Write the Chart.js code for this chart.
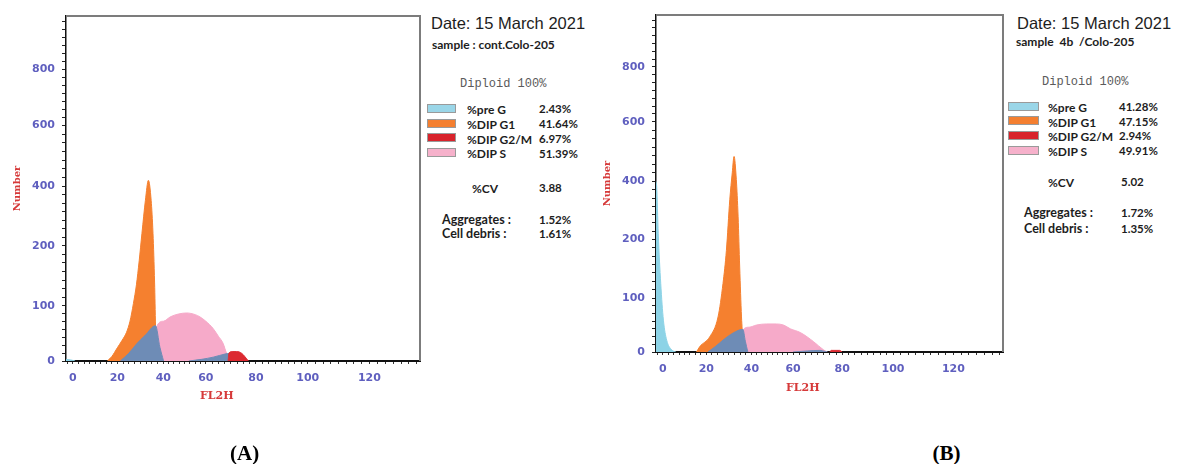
<!DOCTYPE html>
<html>
<head>
<meta charset="utf-8">
<script src="https://cdn.jsdelivr.net/npm/chart.js@4.4.1/dist/chart.umd.min.js"></script>
<style>
  body { margin: 0; width: 1180px; height: 464px; background: #fff; position: relative; overflow: hidden; }
  .plot { position: absolute; top: 0; }
  .t { position: absolute; white-space: pre; line-height: 1; color: #1d1d1d; }
  .date { font: 16.5px 'Liberation Sans', Arial, sans-serif; }
  .samp { font: bold 12px Lato, sans-serif; }
  .dip { font: 12px 'Liberation Mono', monospace; color: #5a5a5a; }
  .lab { font: bold 12px Lato, sans-serif; }
  .val { font: bold 11.5px Lato, sans-serif; }
  .agg { font: bold 12.5px Lato, sans-serif; }
  .ax { font: bold 11px 'DejaVu Serif', serif; color: #d63a3a; }
  .cap { font: bold 21px 'Liberation Serif', serif; color: #000; }
  .sw { position: absolute; height: 7px; border: 1px solid #9a9a9a; }
</style>
</head>
<body>
<div class="plot" style="left:0;width:425px;height:410px"><canvas id="chartA"></canvas></div>
<div class="plot" style="left:590px;width:418px;height:401px"><canvas id="chartB"></canvas></div>

<script>
// FL2H channel ticks and count ticks (the count axis is not linear on the original)
const xTickLabels = [0, 20, 40, 60, 80, 100, 120];
const yTickLabels = [0, 100, 200, 400, 600, 800];

const phaseNames = ['%pre G', '%DIP G1', '%DIP G2/M', '%DIP S'];
const phaseColors = ['#9ad6e8', '#f47f30', '#d8232b', '#f6b1cb'];

// panel A - cont.Colo-205
const pctA = ['2.43%', '41.64%', '6.97%', '51.39%'];
const cvA = '3.88';
const aggA = '1.52%';
const debrisA = '1.61%';
const preG_A = [[-3, 3], [-1, 2], [1, 0]];
const g1_A = [[15.5, 0], [17.5, 8], [20, 24], [22, 37], [24, 52], [25.5, 72], [27, 104], [28.3, 135], [29.5, 175],
  [30.7, 242], [32.2, 353], [33.5, 420], [34.7, 353], [35.5, 242], [36.2, 138], [36.6, 62], [36.9, 0]];
const sPhase_A = [[36.8, 0], [36.9, 60], [40, 72], [43.3, 80], [47, 85], [51, 87], [55, 84], [57.2, 80], [60, 72],
  [62.9, 59], [65, 45], [66.9, 32], [68.3, 14], [70, 5], [71, 0]];
const overlapL_A = [[21.3, 0], [25, 14], [28.6, 32], [32, 46], [36.6, 64], [38.5, 25], [40.1, 0]];
const overlapR_A = [[52, 0], [58, 3], [63, 7], [68, 13], [69.5, 14], [70.5, 10], [71.5, 0]];
const g2_A = [[68.9, 0], [69.2, 14], [70.5, 17], [72.3, 17], [74.3, 14], [77, 0]];

// panel B - 4b /Colo-205
const pctB = ['41.28%', '47.15%', '2.94%', '49.91%'];
const cvB = '5.02';
const aggB = '1.72%';
const debrisB = '1.35%';
const preG_B = [[-3, 400], [-2.7, 383], [-2, 220], [-0.9, 125], [0.3, 59], [1.8, 22], [4.1, 4], [6, 0]];
const g1_B = [[15.5, 0], [17, 10], [21.5, 28], [25.2, 65], [27.4, 125], [28.9, 181], [30.4, 337], [31.5, 429],
  [32.3, 484], [33.3, 407], [34.1, 278], [34.8, 153], [35.6, 65], [35.9, 41], [36.2, 0]];
const sPhase_B = [[36, 0], [36.1, 40], [39, 46], [42.4, 50], [47.3, 52], [52, 52], [55.4, 50], [58.7, 43], [63, 36],
  [68.4, 19], [72.4, 4], [74, 0]];
const overlapL_B = [[20.7, 0], [24, 10], [27.4, 22], [31.8, 35], [36.2, 42], [37.3, 20], [38.4, 0]];
const overlapR_B = [[60, 0], [66, 2], [71, 3], [73, 1], [74, 0]];
const g2_B = [[75, 0], [75.5, 3], [79, 3], [80, 0]];

// piecewise scale: value -> fraction of the axis through [value, fraction] stops
function toFrac(v, stops) {
  for (let i = 1; i < stops.length; i++) {
    const [v0, f0] = stops[i - 1], [v1, f1] = stops[i];
    if (v <= v1 || i === stops.length - 1) return f0 + (v - v0) / (v1 - v0) * (f1 - f0);
  }
}
function fromFrac(f, stops) {
  for (let i = 1; i < stops.length; i++) {
    const [v0, f0] = stops[i - 1], [v1, f1] = stops[i];
    if (f <= f1 || i === stops.length - 1) return v0 + (f - f0) / (f1 - f0) * (v1 - v0);
  }
}

class StopScale extends Chart.LinearScale {
  buildTicks() {
    const { major, minor } = this.options;
    const out = [];
    const add = v => { if (v >= this.min - 1e-6 && v <= this.max + 1e-6) out.push({ value: v, major: major.includes(v) }); };
    let step = (major[1] - major[0]) / minor;
    for (let v = major[0] - step; v >= this.min; v -= step) add(v);
    for (let i = 0; i < major.length - 1; i++) {
      step = (major[i + 1] - major[i]) / minor;
      for (let k = 0; k < minor; k++) add(major[i] + k * step);
    }
    for (let v = major[major.length - 1]; v <= this.max + 1e-6; v += step) add(v);
    out.sort((a, b) => a.value - b.value);
    this.start = this.min;
    this.end = this.max;
    return out;
  }
  getPixelForValue(value) {
    return value === null ? NaN : this.getPixelForDecimal(toFrac(value, this.options.stops));
  }
  getValueForPixel(pixel) {
    return fromFrac(this.getDecimalForPixel(pixel), this.options.stops);
  }
}
StopScale.id = 'stops';
StopScale.defaults = {};
Chart.register(StopScale);

const xStops = [[-3, 0], [0, 0.0195], [20, 0.145], [40, 0.275], [60, 0.395], [80, 0.5365], [100, 0.683], [120, 0.857], [136, 1]];
const yStops = [[0, 0], [100, 0.16], [200, 0.334], [400, 0.506], [600, 0.683], [800, 0.846], [990, 1]];

const tickFont = { family: 'DejaVu Sans', size: 11, weight: 'bold' };
const tickColor = '#5f5fbf';

const frame = {
  id: 'frame',
  afterDatasetsDraw(chart) {
    const { ctx, chartArea: a } = chart;
    ctx.save();
    ctx.strokeStyle = '#7c7c7c';
    ctx.lineWidth = 2;
    ctx.beginPath();
    ctx.moveTo(a.left, a.top);
    ctx.lineTo(a.right, a.top);
    ctx.lineTo(a.right, a.bottom);
    ctx.stroke();
    ctx.restore();
  }
};

function area(data, color) {
  return {
    data,
    backgroundColor: color,
    borderColor: color,
    borderWidth: 1,
    fill: 'origin',
    pointRadius: 0,
    cubicInterpolationMode: 'monotone'
  };
}

function makeChart(id, topPad, d) {
  return new Chart(document.getElementById(id), {
    type: 'line',
    data: {
      // first dataset sits on top
      datasets: [
        area(d.g2, '#dc2a31'),
        area(d.overlapR, '#6e8cb6'),
        area(d.overlapL, '#6e8cb6'),
        area(d.sPhase, '#f6aac9'),
        area(d.g1, '#f5802f'),
        area(d.preG, '#8dd3e6')
      ]
    },
    options: {
      responsive: true,
      maintainAspectRatio: false,
      animation: false,
      events: [],
      layout: { padding: { top: topPad, right: 5, left: 0, bottom: 0 } },
      plugins: { legend: { display: false }, tooltip: { enabled: false } },
      scales: {
        x: {
          type: 'stops',
          stops: xStops,
          major: xTickLabels,
          minor: 8,
          min: -3,
          max: 136,
          z: 1,
          afterFit: s => { s.height = 49; },
          border: { color: '#111', width: 2, dash: [3, 2] },
          grid: { drawOnChartArea: false, tickLength: 3, color: '#333' },
          ticks: {
            autoSkip: false, maxRotation: 0, padding: 8, font: tickFont, color: tickColor,
            callback: (v, i, ticks) => ticks[i].major ? String(v) : ''
          }
        },
        y: {
          type: 'stops',
          stops: yStops,
          major: yTickLabels,
          minor: 7,
          min: 0,
          max: 990,
          afterFit: s => { s.width = 66; },
          border: { color: '#111', width: 1.5 },
          grid: { drawOnChartArea: false, tickLength: 4, color: '#222' },
          title: {
            display: true, text: 'Number', color: '#d63a3a',
            font: { family: 'DejaVu Serif', size: 10, weight: 'bold' }, padding: { top: 11, bottom: 0 }
          },
          ticks: {
            autoSkip: false, padding: 7, font: tickFont, color: tickColor,
            callback: (v, i, ticks) => ticks[i].major ? String(v) : ''
          }
        }
      }
    },
    plugins: [frame]
  });
}

makeChart('chartA', 16, { preG: preG_A, g1: g1_A, sPhase: sPhase_A, overlapL: overlapL_A, overlapR: overlapR_A, g2: g2_A });
makeChart('chartB', 15, { preG: preG_B, g1: g1_B, sPhase: sPhase_B, overlapL: overlapL_B, overlapR: overlapR_B, g2: g2_B });

// side panels with the ModFit style report text
function txt(text, cls, left, cy, size) {
  const el = document.createElement('div');
  el.className = 't ' + cls;
  el.textContent = text;
  el.style.left = left + 'px';
  el.style.top = (cy - size / 2) + 'px';
  document.body.appendChild(el);
}
function swatch(color, left, cy, w) {
  const el = document.createElement('div');
  el.className = 'sw';
  el.style.background = color;
  el.style.left = left + 'px';
  el.style.top = (cy - 4.5) + 'px';
  el.style.width = (w - 2) + 'px';
  document.body.appendChild(el);
}

const panels = [
  { sample: 'sample : cont.Colo-205', pct: pctA, cv: cvA, agg: aggA, debris: debrisA,
    date: [431, 22], samp: [432, 43], dip: [460, 83], sw: 427, swW: 29, lab: 467, val: 539,
    rows: [108, 123, 137.7, 152.3], cvPos: [472, 187], cvVal: 539, aggRow: [442, 218.3, 232.7], aggVal: 539,
    axTitle: [217, 395], cap: [249, 452], capText: 'A' },
  { sample: 'sample  4b  /Colo-205', pct: pctB, cv: cvB, agg: aggB, debris: debrisB,
    date: [1017, 22], samp: [1016, 40], dip: [1042, 81], sw: 1008, swW: 31, lab: 1048, val: 1119,
    rows: [106, 120.5, 135, 150], cvPos: [1048, 181], cvVal: 1121, aggRow: [1024, 211.7, 227.3], aggVal: 1121,
    axTitle: [803, 387], cap: [951.5, 452], capText: 'B' }
];

panels.forEach(p => {
  txt('Date: 15 March 2021', 'date', p.date[0], p.date[1], 16.5);
  txt(p.sample, 'samp', p.samp[0], p.samp[1], 12);
  txt('Diploid 100%', 'dip', p.dip[0], p.dip[1], 12);
  phaseNames.forEach((name, i) => {
    swatch(phaseColors[i], p.sw, p.rows[i], p.swW);
    txt(name, 'lab', p.lab, p.rows[i], 12);
    txt(p.pct[i], 'val', p.val, p.rows[i], 11.5);
  });
  txt('%CV', 'lab', p.cvPos[0], p.cvPos[1], 12);
  txt(p.cv, 'val', p.cvVal, p.cvPos[1], 11.5);
  txt('Aggregates :', 'agg', p.aggRow[0], p.aggRow[1], 12.5);
  txt('Cell debris :', 'agg', p.aggRow[0], p.aggRow[2], 12.5);
  txt(p.agg, 'val', p.aggVal, p.aggRow[1], 11.5);
  txt(p.debris, 'val', p.aggVal, p.aggRow[2], 11.5);

  const fl = document.createElement('div');
  fl.className = 't ax';
  fl.textContent = 'FL2H';
  fl.style.left = (p.axTitle[0] - 17) + 'px';
  fl.style.top = (p.axTitle[1] - 6) + 'px';
  document.body.appendChild(fl);

  const cap = document.createElement('div');
  cap.className = 't cap';
  cap.textContent = '(' + p.capText + ')';
  cap.style.left = (p.cap[0] - 19) + 'px';
  cap.style.top = (p.cap[1] - 11) + 'px';
  document.body.appendChild(cap);
});
</script>
</body>
</html>
